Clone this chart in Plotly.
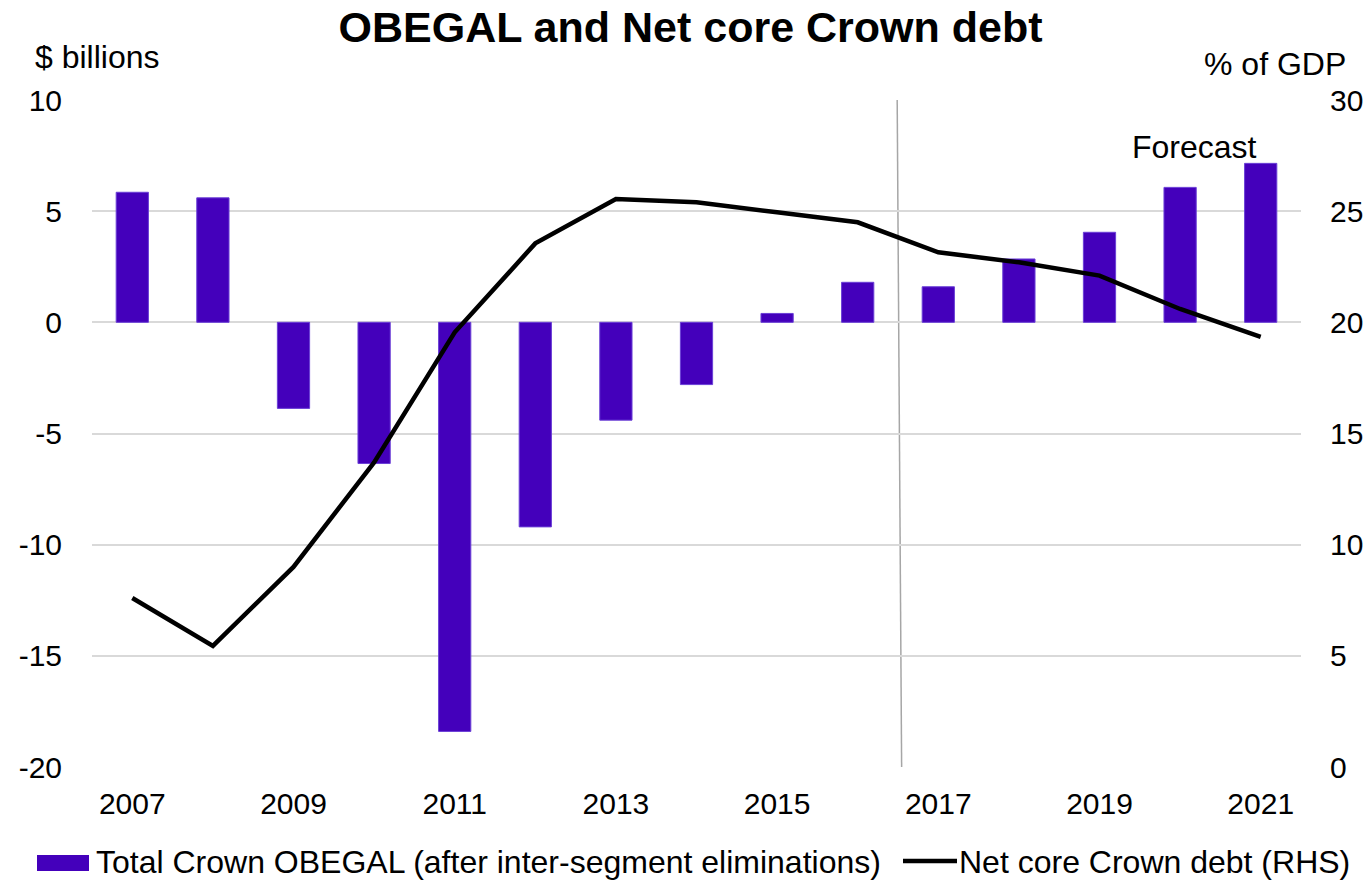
import plotly.graph_objects as go

years = list(range(2007, 2022))
obegal = [5.85, 5.6, -3.87, -6.35, -18.4, -9.2, -4.4, -2.8, 0.4, 1.8, 1.6, 2.85, 4.05, 6.07, 7.15]
net_debt = [7.6, 5.45, 9.0, 13.7, 19.55, 23.55, 25.55, 25.4, 24.95, 24.5, 23.15, 22.7, 22.1, 20.6, 19.35]
tick_years = [2007, 2009, 2011, 2013, 2015, 2017, 2019, 2021]
left_ticks = [10, 5, 0, -5, -10, -15, -20]
right_ticks = [30, 25, 20, 15, 10, 5, 0]
bar_name = "Total Crown OBEGAL (after inter-segment eliminations)"
line_name = "Net core Crown debt (RHS)"

FONT = "Liberation Sans, Arial, sans-serif"
BAR_COLOR = "#4400BB"

fig = go.Figure()
fig.add_trace(go.Bar(
    x=years, y=obegal, name=bar_name,
    marker=dict(color=BAR_COLOR, line=dict(color="#6A3FD6", width=1)), width=0.4,
))
fig.add_trace(go.Scatter(
    x=years, y=net_debt, name=line_name, yaxis="y2",
    mode="lines", line=dict(color="black", width=4.5),
))

# forecast divider
fig.add_shape(type="line", xref="x", yref="paper", x0=2016.49, x1=2016.545, y0=1, y1=0,
              line=dict(color="#A6A6A6", width=1.5), layer="below")

fig.update_layout(
    width=1371, height=881,
    margin=dict(l=92, r=70, t=100, b=114, autoexpand=False),
    paper_bgcolor="white", plot_bgcolor="white",
    font=dict(family=FONT, size=30, color="black"),
    title=dict(text="<b>OBEGAL and Net core Crown debt</b>", x=(690.5) / 1371, xanchor="center",
               y=1 - 27 / 881, yanchor="middle", font=dict(size=43, family=FONT)),
    showlegend=False,
    xaxis=dict(range=[2006.5, 2021.5], tickmode="array", tickvals=tick_years,
               ticktext=[str(y) for y in tick_years], showgrid=False, zeroline=False,
               showline=False, ticks="", ticklabelstandoff=16),
    yaxis=dict(range=[-20, 10], tickmode="array", tickvals=left_ticks,
               ticktext=[str(v) for v in left_ticks],
               showgrid=True, gridcolor="#D9D9D9", gridwidth=1.5, zeroline=False,
               ticks="", ticklabelstandoff=29),
    yaxis2=dict(range=[0, 30], tickmode="array", tickvals=right_ticks,
                ticktext=[str(v) for v in right_ticks], overlaying="y",
                side="right", showgrid=False, zeroline=False, ticks="",
                ticklabelstandoff=28),
)

W, H = 1209.0, 667.0
def px(xp):
    return (xp - 92) / W
def py(yp):
    return (767 - yp) / H

# axis unit labels
fig.add_annotation(text="$ billions", xref="paper", yref="paper", x=px(33), y=py(57),
                   xanchor="left", yanchor="middle", showarrow=False, font=dict(size=32))
fig.add_annotation(text="% of GDP", xref="paper", yref="paper", x=px(1348), y=py(64),
                   xanchor="right", yanchor="middle", showarrow=False, font=dict(size=32))
fig.add_annotation(text="Forecast", xref="paper", yref="paper", x=px(1194.5), y=py(147),
                   xanchor="center", yanchor="middle", showarrow=False, font=dict(size=32))

# custom legend
fig.add_shape(type="rect", xref="paper", yref="paper", x0=px(37), x1=px(89), y0=py(855), y1=py(871),
              fillcolor=BAR_COLOR, line=dict(width=0))
fig.add_annotation(text=bar_name, xref="paper", yref="paper", x=px(94), y=py(862),
                   xanchor="left", yanchor="middle", showarrow=False, font=dict(size=32))
fig.add_shape(type="line", xref="paper", yref="paper", x0=px(903), x1=px(957), y0=py(861), y1=py(861),
              line=dict(color="black", width=4.5))
fig.add_annotation(text=line_name, xref="paper", yref="paper", x=px(957), y=py(862),
                   xanchor="left", yanchor="middle", showarrow=False, font=dict(size=32))

fig.write_html("out.html", config={"displayModeBar": False},
               post_script="document.body.style.margin='0px';document.body.style.overflow='hidden';")
